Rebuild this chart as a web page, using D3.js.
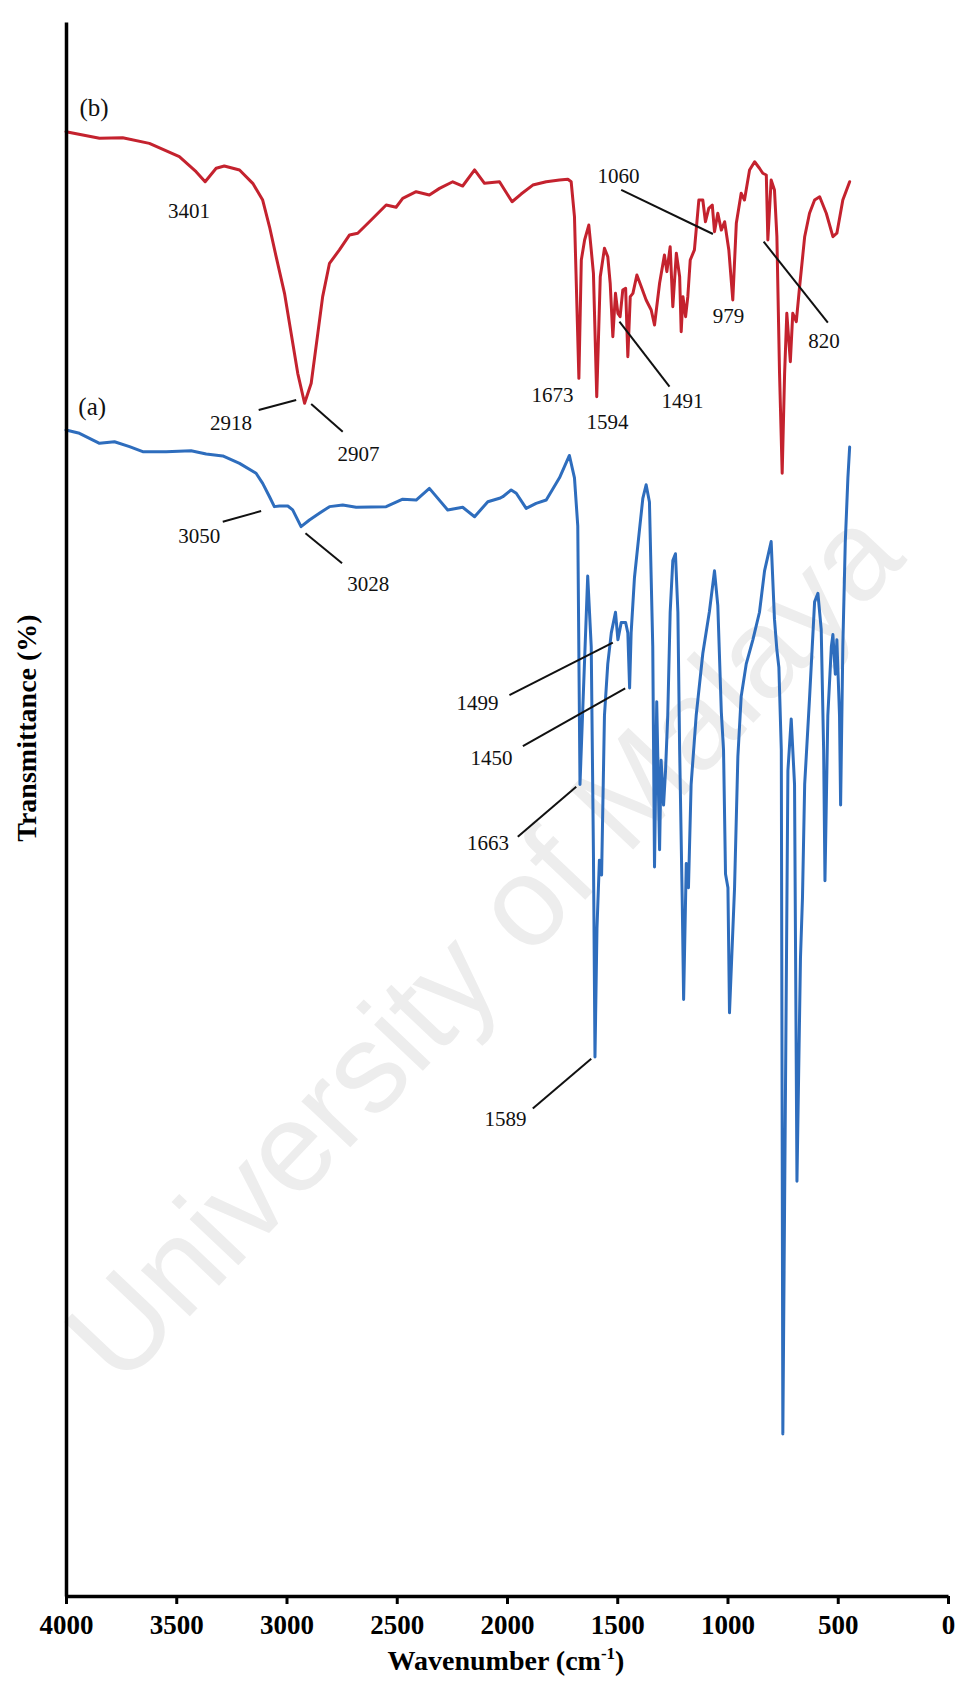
<!DOCTYPE html>
<html>
<head>
<meta charset="utf-8">
<script src="https://cdnjs.cloudflare.com/ajax/libs/d3/7.8.5/d3.min.js"></script>
<style>
body { margin: 0; background: #fff; }
svg { display: block; }
</style>
</head>
<body>
<svg></svg>
<script>
var screen = {width: 962, height: 1685};
var margins = {top: 22, right: 14, bottom: 89, left: 66};

// spectrum (b), red
var redWave = [4000,3848,3743,3622,3486,3410,3369,3319,3282,3213,3153,3108,3077,3047,3009,2979,2949,2918,2888,2858,2836,2805,2760,2714,2677,2624,2548,2503,2473,2412,2352,2306,2246,2201,2147,2102,2034,1977,1936,1883,1822,1762,1724,1709,1694,1674,1663,1648,1629,1618,1608,1593,1577,1558,1543,1532,1520,1508,1497,1487,1475,1462,1452,1441,1429,1411,1391,1369,1346,1331,1308,1286,1275,1260,1248,1232,1217,1210,1202,1190,1180,1169,1150,1130,1112,1100,1085,1069,1059,1044,1028,1013,994,976,960,938,923,900,877,855,840,824,817,802,787,776,764,752,741,731,715,704,688,673,650,628,605,582,552,522,504,477,446];
var redT = [93.03,92.61,92.65,92.29,91.44,90.49,89.85,90.71,90.85,90.60,89.75,88.69,86.99,85.09,82.76,80.22,77.68,75.78,77.05,80.22,82.55,84.67,85.52,86.47,86.58,87.31,88.37,88.23,88.80,89.22,89.01,89.43,89.85,89.58,90.60,89.75,89.85,88.58,89.07,89.64,89.85,89.96,90.01,89.85,87.63,77.36,84.88,86.15,87.10,85.52,84.03,76.19,83.82,85.62,85.09,83.40,80.01,82.76,81.49,81.28,82.97,83.08,78.74,82.55,82.76,83.93,83.18,82.34,81.70,80.75,83.40,85.20,84.14,85.72,81.91,85.31,83.82,80.32,82.55,81.28,82.55,84.88,85.52,88.69,88.69,87.31,88.16,88.37,86.68,87.85,86.78,87.31,85.52,82.34,87.21,89.12,88.69,90.60,91.12,90.71,90.39,90.28,86.15,89.96,89.33,86.36,77.68,71.33,77.68,81.49,78.42,81.49,80.96,83.18,86.36,87.85,88.69,88.90,87.85,86.36,86.58,88.69,89.85];

// spectrum (a), blue
var blueWave = [4000,3939,3848,3780,3712,3652,3546,3433,3364,3289,3213,3138,3108,3077,3055,3032,2994,2972,2934,2896,2851,2805,2745,2684,2548,2473,2412,2352,2269,2201,2147,2087,2034,2019,1981,1958,1913,1868,1822,1762,1717,1694,1679,1669,1634,1618,1608,1601,1592,1581,1571,1558,1543,1527,1508,1497,1482,1462,1452,1444,1437,1422,1399,1384,1369,1354,1339,1331,1321,1308,1301,1290,1281,1271,1260,1248,1236,1225,1217,1205,1199,1187,1177,1165,1142,1112,1082,1059,1044,1028,1018,1009,998,991,968,953,938,915,885,855,832,802,787,776,767,756,749,726,711,696,685,669,660,650,628,605,590,575,564,558,545,529,522,511,504,492,487,477,466,454,446];
var blueT = [74.08,73.87,73.23,73.33,73.02,72.70,72.70,72.76,72.55,72.43,71.96,71.33,70.69,69.84,69.21,69.25,69.25,69.00,67.94,68.36,68.79,69.21,69.31,69.17,69.21,69.68,69.63,70.37,69.00,69.17,68.57,69.52,69.74,69.84,70.27,70.06,69.10,69.42,69.63,71.04,72.46,71.04,67.97,51.56,64.80,60.32,47.19,34.24,42.38,46.75,45.81,55.94,59.22,61.19,62.50,60.75,61.85,61.85,61.19,57.69,61.19,64.69,67.76,69.73,70.60,69.50,60.32,46.32,56.82,47.41,53.09,50.25,52.44,55.94,62.50,65.79,66.22,62.50,53.75,43.90,37.90,46.53,45.00,51.56,55.94,59.88,62.55,65.13,62.94,56.16,53.75,45.87,45.00,37.05,45.00,53.32,57.14,59.22,60.75,62.50,65.13,66.99,62.06,60.10,59.00,53.75,10.30,52.44,55.72,51.56,26.35,40.57,44.35,51.56,57.03,63.16,63.70,61.41,53.75,45.44,55.94,60.32,61.08,58.56,60.75,55.94,50.25,60.32,66.88,71.04,73.00];

var xTicks = [4000, 3500, 3000, 2500, 2000, 1500, 1000, 500, 0];

// peak labels, placed in data units
var labelText = ["3401","2918","2907","1673","1594","1491","1060","979","820","3050","3028","1499","1450","1663","1589"];
var labelWave = [3442,3252,2674,1794,1544,1204,1494,995,562,3396,2629,2134,2070,2086,2007];
var labelT = [87.55,74.08,72.13,75.88,74.12,75.46,89.75,80.90,79.27,66.88,63.87,56.29,52.80,47.40,29.87];

// leader lines: wave1, T1, wave2, T2
var leaders = [
  [3126,75.35,2956,75.98],
  [2888,75.73,2745,73.97],
  [1490,80.96,1263,76.83],
  [1482,89.33,1066,86.53],
  [836,86.04,545,80.90],
  [3289,68.25,3115,68.93],
  [2914,67.52,2748,65.61],
  [1989,57.24,1520,60.57],
  [1928,54.00,1464,57.67],
  [1951,48.24,1686,51.42],
  [1883,30.97,1618,34.13]
];

var seriesNames = ["(b)", "(a)"];
var seriesWave = [3939, 3944];
var seriesT = [94.03, 75.03];

var serif = "'Liberation Serif', 'Times New Roman', serif";

var setup = function()
{
    var width = screen.width - margins.left - margins.right;
    var height = screen.height - margins.top - margins.bottom;

    var svg = d3.select("svg")
        .attr("width", screen.width)
        .attr("height", screen.height)
        .style("background", "#fff");

    // watermark
    svg.append("text")
        .attr("transform", "translate(482,944) rotate(-46.5)")
        .attr("text-anchor", "middle")
        .attr("dy", "0.35em")
        .attr("font-family", "'Liberation Sans', Arial, sans-serif")
        .attr("font-size", 127)
        .attr("fill", "#ededed")
        .text("University of Malaya");

    var graph = svg.append("g")
        .attr("id", "graph")
        .attr("transform", "translate(" + margins.left + "," + margins.top + ")");

    var xScale = d3.scaleLinear()
        .domain([4000, 0])
        .range([0, width]);

    var yScale = d3.scaleLinear()
        .domain([0, 100])
        .range([height, 0]);

    drawSpectrum(graph, redWave, redT, xScale, yScale, "#c4222e");
    drawSpectrum(graph, blueWave, blueT, xScale, yScale, "#2e6dbd");

    // axes
    var xAxis = d3.axisBottom(xScale)
        .tickValues(xTicks)
        .tickFormat(d3.format("d"))
        .tickSize(8)
        .tickSizeOuter(0)
        .tickPadding(11);

    var xg = graph.append("g")
        .attr("id", "xAxis")
        .attr("transform", "translate(0," + height + ")")
        .call(xAxis)
        .attr("font-family", serif)
        .attr("font-size", 27)
        .attr("font-weight", "bold");
    xg.select(".domain").attr("stroke", "#000").attr("stroke-width", 3.5);
    xg.selectAll(".tick line").attr("stroke", "#000").attr("stroke-width", 3);
    xg.selectAll(".tick text").attr("fill", "#000");

    var yAxis = d3.axisLeft(yScale)
        .tickValues([])
        .tickSizeOuter(0);

    graph.append("g")
        .attr("id", "yAxis")
        .call(yAxis)
        .select(".domain")
        .attr("stroke", "#000")
        .attr("stroke-width", 3.5);

    // axis titles
    var xTitle = svg.append("text")
        .attr("x", 506)
        .attr("y", 1670)
        .attr("text-anchor", "middle")
        .attr("font-family", serif)
        .attr("font-size", 28)
        .attr("font-weight", "bold");
    xTitle.append("tspan").text("Wavenumber (cm");
    xTitle.append("tspan")
        .attr("font-size", 17)
        .attr("dy", -11)
        .text("-1");
    xTitle.append("tspan")
        .attr("dy", 11)
        .text(")");

    svg.append("text")
        .attr("transform", "translate(36,728) rotate(-90)")
        .attr("text-anchor", "middle")
        .attr("font-family", serif)
        .attr("font-size", 28)
        .attr("font-weight", "bold")
        .text("Transmittance (%)");

    // leader lines
    graph.append("g")
        .selectAll("line")
        .data(leaders)
        .enter()
        .append("line")
        .attr("x1", function(d) { return xScale(d[0]); })
        .attr("y1", function(d) { return yScale(d[1]); })
        .attr("x2", function(d) { return xScale(d[2]); })
        .attr("y2", function(d) { return yScale(d[3]); })
        .attr("stroke", "#111")
        .attr("stroke-width", 2);

    // peak labels
    graph.append("g")
        .selectAll("text")
        .data(labelText)
        .enter()
        .append("text")
        .attr("x", function(d, i) { return xScale(labelWave[i]); })
        .attr("y", function(d, i) { return yScale(labelT[i]); })
        .attr("text-anchor", "middle")
        .attr("font-family", serif)
        .attr("font-size", 21)
        .attr("fill", "#111")
        .text(function(d) { return d; });

    // series names
    graph.append("g")
        .selectAll("text")
        .data(seriesNames)
        .enter()
        .append("text")
        .attr("x", function(d, i) { return xScale(seriesWave[i]); })
        .attr("y", function(d, i) { return yScale(seriesT[i]); })
        .attr("font-family", serif)
        .attr("font-size", 25)
        .attr("fill", "#111")
        .text(function(d) { return d; });
}

var drawSpectrum = function(graph, waves, values, xScale, yScale, colour)
{
    var points = waves.map(function(w, i) { return {wave: w, t: values[i]}; });

    var lineGenerator = d3.line()
        .x(function(p) { return xScale(p.wave); })
        .y(function(p) { return yScale(p.t); });

    graph.append("path")
        .datum(points)
        .attr("fill", "none")
        .attr("stroke", colour)
        .attr("stroke-width", 3)
        .attr("stroke-linejoin", "round")
        .attr("stroke-linecap", "round")
        .attr("d", lineGenerator);
}

setup();
</script>
</body>
</html>
